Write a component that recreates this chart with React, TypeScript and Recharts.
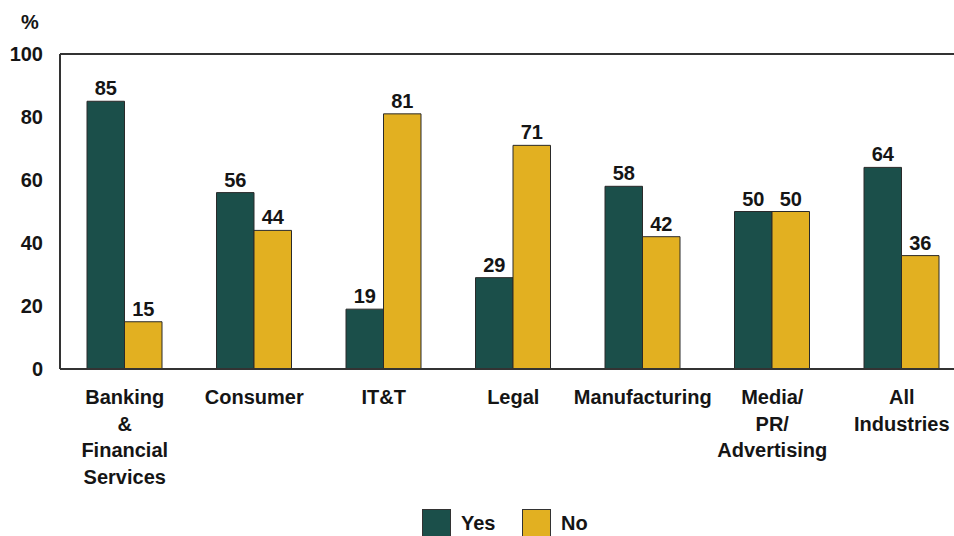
import { BarChart, Bar, XAxis, YAxis, ReferenceLine, LabelList } from 'recharts';

const categories = [
  'Banking\n&\nFinancial\nServices',
  'Consumer',
  'IT&T',
  'Legal',
  'Manufacturing',
  'Media/\nPR/\nAdvertising',
  'All\nIndustries',
];
const yesValues = [85, 56, 19, 29, 58, 50, 64];
const noValues = [15, 44, 81, 71, 42, 50, 36];
const yTicks = [0, 20, 40, 60, 80, 100];

const YES_COLOR = '#1b4f4a';
const NO_COLOR = '#e2b021';
const INK = '#151515';
const FONT = '"Liberation Sans", Arial, sans-serif';

const data = categories.map((name, i) => ({ name, yes: yesValues[i], no: noValues[i] }));

function CategoryTick({ x, y, payload }: any) {
  const lines = String(payload.value).split('\n');
  return (
    <text x={x} y={y} textAnchor="middle" fill={INK} fontSize={20} fontWeight="bold" fontFamily={FONT}>
      {lines.map((line, i) => (
        <tspan key={i} x={x} dy={i === 0 ? 27 : 26.7}>
          {line}
        </tspan>
      ))}
    </text>
  );
}

function LegendBox({ color, label, left }: { color: string; label: string; left: number }) {
  return (
    <div style={{ position: 'absolute', left, top: 509, display: 'flex', alignItems: 'flex-start' }}>
      <div style={{ width: 27, height: 27, background: color, border: '1px solid #333' }} />
      <span style={{ marginLeft: 10, marginTop: 3, fontFamily: FONT, fontWeight: 'bold', fontSize: 20, color: INK }}>
        {label}
      </span>
    </div>
  );
}

export default function App() {
  return (
    <div style={{ position: 'absolute', left: 0, top: 0, width: 954, height: 536, overflow: 'hidden', background: '#fff' }}>
      <div style={{ position: 'absolute', left: 21, top: 11, fontFamily: FONT, fontWeight: 'bold', fontSize: 20, color: INK }}>%</div>
      <BarChart
        width={980}
        height={560}
        data={data}
        margin={{ top: 54, right: 13.5, bottom: 72, left: 0 }}
        barGap={0}
        barSize={37.5}
      >
        <YAxis
          width={60}
          domain={[0, 100]}
          ticks={yTicks}
          tickLine={false}
          tickSize={0}
          tickMargin={17}
          axisLine={{ stroke: '#333', strokeWidth: 2 }}
          tick={{ fill: INK, fontSize: 20, fontWeight: 'bold', fontFamily: FONT }}
        />
        <XAxis
          dataKey="name"
          height={119}
          interval={0}
          tickLine={false}
          axisLine={{ stroke: '#333', strokeWidth: 2 }}
          tick={<CategoryTick />}
        />
        <ReferenceLine y={100} stroke="#333" strokeWidth={2} />
        <Bar dataKey="yes" fill={YES_COLOR} stroke="#2a2a2a" strokeWidth={1} isAnimationActive={false}>
          <LabelList dataKey="yes" position="top" offset={6} fill={INK} fontSize={20} fontWeight="bold" fontFamily={FONT} />
        </Bar>
        <Bar dataKey="no" fill={NO_COLOR} stroke="#2a2a2a" strokeWidth={1} isAnimationActive={false}>
          <LabelList dataKey="no" position="top" offset={6} fill={INK} fontSize={20} fontWeight="bold" fontFamily={FONT} />
        </Bar>
      </BarChart>
      <LegendBox color={YES_COLOR} label="Yes" left={422} />
      <LegendBox color={NO_COLOR} label="No" left={522} />
    </div>
  );
}
